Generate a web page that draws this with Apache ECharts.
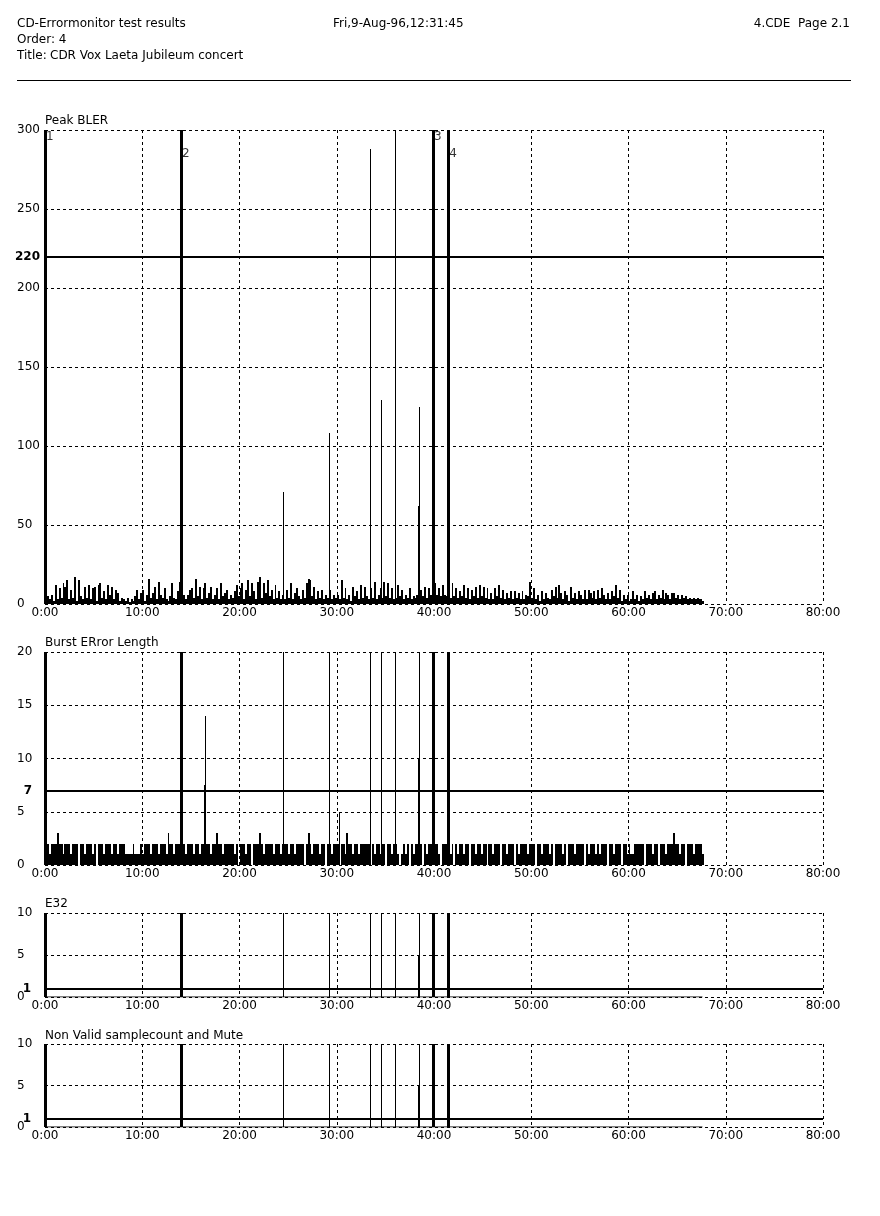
<!DOCTYPE html>
<html><head><meta charset="utf-8">
<script src="https://cdn.jsdelivr.net/npm/echarts@6/dist/echarts.min.js"></script>
<style>html,body{margin:0;padding:0;background:#fff}#c{width:880px;height:1216px}</style>
</head><body><div id="c"></div>
<script>
// ---------- DATA ----------
const SAMPLE_STEP = 0.2;           // minutes between samples
const RECORD_END = 67.6;           // end of the recording (minutes)
const xTickLabels = ['0:00','10:00','20:00','30:00','40:00','50:00','60:00','70:00','80:00'];
const markerTimes = [0, 13.98, 39.9, 41.47];
const markerNames = ['1', '2', '3', '4'];

// Peak BLER samples (every 0.2 min)
const blerSamples = [
 6,5,3,6,2, 12,3,10,4,13, 11,15,3,9,4, 17,2,15,5,3, 11,4,12,3,10,
 11,2,12,13,4, 8,3,12,6,11, 3,9,7,2,4, 3,2,4,1,3, 2,5,9,3,7,
 9,2,6,16,4, 7,11,3,14,6, 4,10,3,2,5, 13,4,3,8,14, 2,6,3,6,9,
 10,4,16,5,11, 3,10,13,4,7, 11,3,6,10,3, 13,5,7,9,3, 6,4,8,12,5,
 10,13,3,9,15, 5,13,8,3,14, 17,4,13,7,15, 5,9,3,12,4, 8,3,6,3,9,
 4,13,3,7,10, 5,3,9,4,13, 16,15,5,11,3, 8,4,9,3,6, 4,9,3,6,4,
 6,3,15,4,10, 3,6,2,11,5, 8,3,12,4,11, 5,3,10,4,14, 3,6,10,4,14,
 5,13,4,10,3, 4,12,5,9,3, 6,4,10,3,5, 4,6,3,9,5, 11,4,10,6,5,
 13,6,10,5,12, 6,5,9,4,13, 5,10,4,8,5, 12,4,10,3,9, 5,11,4,12,5,
 11,4,10,3,7, 3,10,5,12,4, 9,3,7,4,8, 3,8,4,7,3, 8,3,6,5,14,
 4,10,3,6,2, 8,3,7,4,3, 9,5,11,4,12, 7,3,8,6,2, 11,4,7,3,8,
 6,3,9,3,9, 7,4,8,3,9, 4,10,6,3,7, 3,8,5,12,4, 9,2,6,3,6,
 2,3,8,3,6, 2,5,3,8,4, 6,3,7,8,3, 6,4,9,3,7, 6,3,7,7,4,
 6,3,6,4,5, 3,4,3,4,3, 4,3,3,2
];
// Burst error length samples (every 0.2 min)
const burstSamples = [
 2,2,1,2,2, 2,3,2,2,1, 2,2,2,1,2, 2,2,0,2,2, 1,2,2,2,1,
 2,0,2,2,2, 1,2,2,2,1, 2,2,1,2,2, 2,1,1,1,1, 2,1,1,1,2,
 1,2,2,2,1, 2,2,2,1,2, 2,2,1,3,2, 2,1,2,2,2, 2,2,1,2,2,
 2,1,2,2,1, 2,2,1,2,2, 1,2,2,3,2, 2,1,2,2,2, 2,2,1,2,0,
 2,2,2,1,2, 2,0,2,2,2, 3,2,1,2,2, 2,2,1,2,2, 2,1,2,2,2,
 1,2,2,1,2, 2,2,2,0,2, 3,2,1,2,2, 2,1,2,2,0, 2,2,1,2,2,
 2,0,2,2,1, 3,2,2,1,2, 2,1,2,2,2, 2,2,0,2,1, 2,2,1,2,2,
 0,2,2,1,2, 2,1,0,1,2, 1,2,0,2,1, 2,2,1,2,0, 2,1,2,2,1,
 2,2,1,0,2, 2,2,2,1,2, 0,2,1,2,2, 1,2,2,0,2, 2,1,2,2,1,
 2,2,0,2,2, 1,2,2,2,0, 2,2,1,2,2, 2,0,2,1,2, 2,2,2,1,2,
 2,2,0,2,2, 1,2,2,2,1, 2,0,2,2,2, 2,1,2,0,2, 2,2,1,2,2,
 2,2,0,2,1, 2,2,2,1,2, 1,2,2,2,0, 2,2,1,2,2, 2,0,2,2,1,
 2,1,1,2,2, 2,2,2,0,2, 2,2,1,2,2, 0,2,2,2,1, 2,2,2,3,2,
 2,1,2,2,0, 2,2,2,1,2, 2,2,2,1
];
// E32 and Non-valid counts are zero over the recording apart from the events
const e32Base = [[0, 0], [RECORD_END, 0]];
const nvBase = [[0, 0], [RECORD_END, 0]];

// Isolated error events (minutes) and their values (values above the axis max are clipped)
const blerEventTimes = [24.5, 29.24, 33.45, 34.58, 36.02, 38.38, 38.48];
const blerEventValues = [71, 108, 288, 129, 300, 62, 125];
const burstEventTimes = [16.4, 16.5, 24.5, 29.24, 30.27, 33.45, 34.58, 36.02, 38.38, 38.48];
const burstEventValues = [7.5, 14, 25, 25, 5, 25, 25, 25, 10, 25];
const e32EventTimes = [24.5, 29.24, 33.45, 34.58, 36.02, 38.38, 38.48];
const e32EventValues = [12, 12, 12, 12, 12, 5, 12];
const nvEventTimes = [24.5, 29.24, 33.45, 34.58, 36.02, 38.38, 38.48];
const nvEventValues = [12, 12, 12, 12, 12, 5, 12];

const thresholds = [220, 7, 1, 1];
const panelTitles = ['Peak BLER', 'Burst ERror Length', 'E32', 'Non Valid samplecount and Mute'];
const yMax = [300, 20, 10, 10];
const yInterval = [50, 5, 5, 5];

// ---------- LAYOUT / STYLE ----------
const FONT = '"DejaVu Sans", sans-serif';
const panels = [
  {top: 130, height: 474, thrDist: 5, titleY: 122,
   bars: blerSamples.map((v, i) => [i * SAMPLE_STEP, v]),
   ev: blerEventTimes.map((t, i) => [t, blerEventValues[i]])},
  {top: 652, height: 213, thrDist: 13, titleY: 644,
   bars: burstSamples.map((v, i) => [i * SAMPLE_STEP, v]),
   ev: burstEventTimes.map((t, i) => [t, burstEventValues[i]])},
  {top: 913, height: 84, thrDist: 14, titleY: 905,
   line: e32Base,
   ev: e32EventTimes.map((t, i) => [t, e32EventValues[i]])},
  {top: 1044, height: 83, thrDist: 14, titleY: 1037,
   line: nvBase,
   ev: nvEventTimes.map((t, i) => [t, nvEventValues[i]])}
];

const grids = [], xAxes = [], yAxes = [], series = [], graphics = [];
const dashed = {show: true, lineStyle: {color: '#000', type: [3, 3], width: 1}};

// a sample drawn as a crisp column covering its own sampling interval
function sampleColumn(params, api) {
  const t = api.value(0), v = api.value(1);
  if (!(v > 0)) return null;
  const b = api.coord([t, 0]), top = api.coord([t, v]);
  const nx = api.coord([t + SAMPLE_STEP, 0])[0];
  const cs = params.coordSys;
  const yTop = Math.max(Math.round(top[1]), cs.y);
  const x0 = Math.round(b[0]), x1 = Math.max(x0 + 1, Math.round(nx));
  return {type: 'rect', shape: {x: x0, y: yTop, width: x1 - x0, height: Math.round(b[1]) - yTop},
    style: {fill: '#000'}};
}
// an isolated event drawn as a 1px hairline
function eventLine(params, api) {
  const t = api.value(0), v = api.value(1);
  const b = api.coord([t, 0]), top = api.coord([t, v]);
  const cs = params.coordSys;
  const yTop = Math.max(Math.round(top[1]), cs.y);
  return {type: 'rect', shape: {x: Math.floor(b[0]), y: yTop, width: 1, height: Math.round(b[1]) - yTop},
    style: {fill: '#000'}};
}

panels.forEach((p, k) => {
  grids.push({left: 45, right: 57, top: p.top, height: p.height, containLabel: false});
  xAxes.push({type: 'value', gridIndex: k, min: 0, max: 80, interval: 10,
    axisLine: {show: false}, axisTick: {show: false}, splitLine: dashed,
    axisLabel: {color: '#000', fontFamily: FONT, fontSize: 12, margin: 3,
      formatter: v => xTickLabels[Math.round(v / 10)]}});
  yAxes.push({type: 'value', gridIndex: k, min: 0, max: yMax[k], interval: yInterval[k],
    axisLine: {show: false}, axisTick: {show: false}, splitLine: dashed,
    axisLabel: {color: '#000', fontFamily: FONT, fontSize: 12, margin: 28, align: 'left'}});

  const ml = [{yAxis: thresholds[k], lineStyle: {width: 2, type: 'solid', color: '#000'},
      label: {show: true, position: 'start', distance: p.thrDist, formatter: String(thresholds[k]),
        color: '#000', fontFamily: FONT, fontSize: 12, fontWeight: 'bold'}}];
  markerTimes.forEach(t => ml.push({xAxis: t, lineStyle: {width: 3, type: 'solid', color: '#000'},
      label: {show: false}}));
  const markLine = {silent: true, symbol: ['none', 'none'], animation: false, data: ml};

  if (p.bars) {
    series.push({type: 'custom', xAxisIndex: k, yAxisIndex: k, data: p.bars, silent: true,
      encode: {x: 0, y: 1}, renderItem: sampleColumn, markLine});
  } else {
    series.push({type: 'line', xAxisIndex: k, yAxisIndex: k, data: p.line, symbol: 'none',
      silent: true, lineStyle: {color: '#000', width: 1}, markLine});
  }

  series.push({type: 'custom', xAxisIndex: k, yAxisIndex: k, data: p.ev, silent: true,
    encode: {x: 0, y: 1}, renderItem: eventLine});

  graphics.push({type: 'text', left: 45, top: p.titleY - 7,
    style: {text: panelTitles[k], font: '12px ' + FONT, fill: '#000'}});
});

// marker number labels in the top panel
series.push({type: 'scatter', xAxisIndex: 0, yAxisIndex: 0, symbolSize: 0, silent: true,
  data: markerTimes.map((t, i) => [t, i % 2 ? 285 : 295.5, markerNames[i]]),
  label: {show: true, position: 'right', distance: 1, color: '#000', fontFamily: FONT, fontSize: 12,
    formatter: p => p.value[2]}});

// header
graphics.push(
  {type: 'text', left: 17, top: 18, style: {text: 'CD-Errormonitor test results', font: '12px ' + FONT, fill: '#000'}},
  {type: 'text', left: 17, top: 34, style: {text: 'Order: 4', font: '12px ' + FONT, fill: '#000'}},
  {type: 'text', left: 17, top: 50, style: {text: 'Title:', font: '12px ' + FONT, fill: '#000'}},
  {type: 'text', left: 50, top: 50, style: {text: 'CDR Vox Laeta Jubileum concert', font: '12px ' + FONT, fill: '#000'}},
  {type: 'text', left: 333, top: 18, style: {text: 'Fri,9-Aug-96,12:31:45', font: '12px ' + FONT, fill: '#000'}},
  {type: 'text', right: 30, top: 18, style: {text: '4.CDE  Page 2.1', font: '12px ' + FONT, fill: '#000'}},
  {type: 'line', shape: {x1: 17, y1: 80.5, x2: 851, y2: 80.5}, style: {stroke: '#000', lineWidth: 1}}
);

const chart = echarts.init(document.getElementById('c'), null, {renderer: 'canvas'});
chart.setOption({animation: false, backgroundColor: '#fff', grid: grids, xAxis: xAxes, yAxis: yAxes,
  series: series, graphic: graphics});
</script></body></html>
